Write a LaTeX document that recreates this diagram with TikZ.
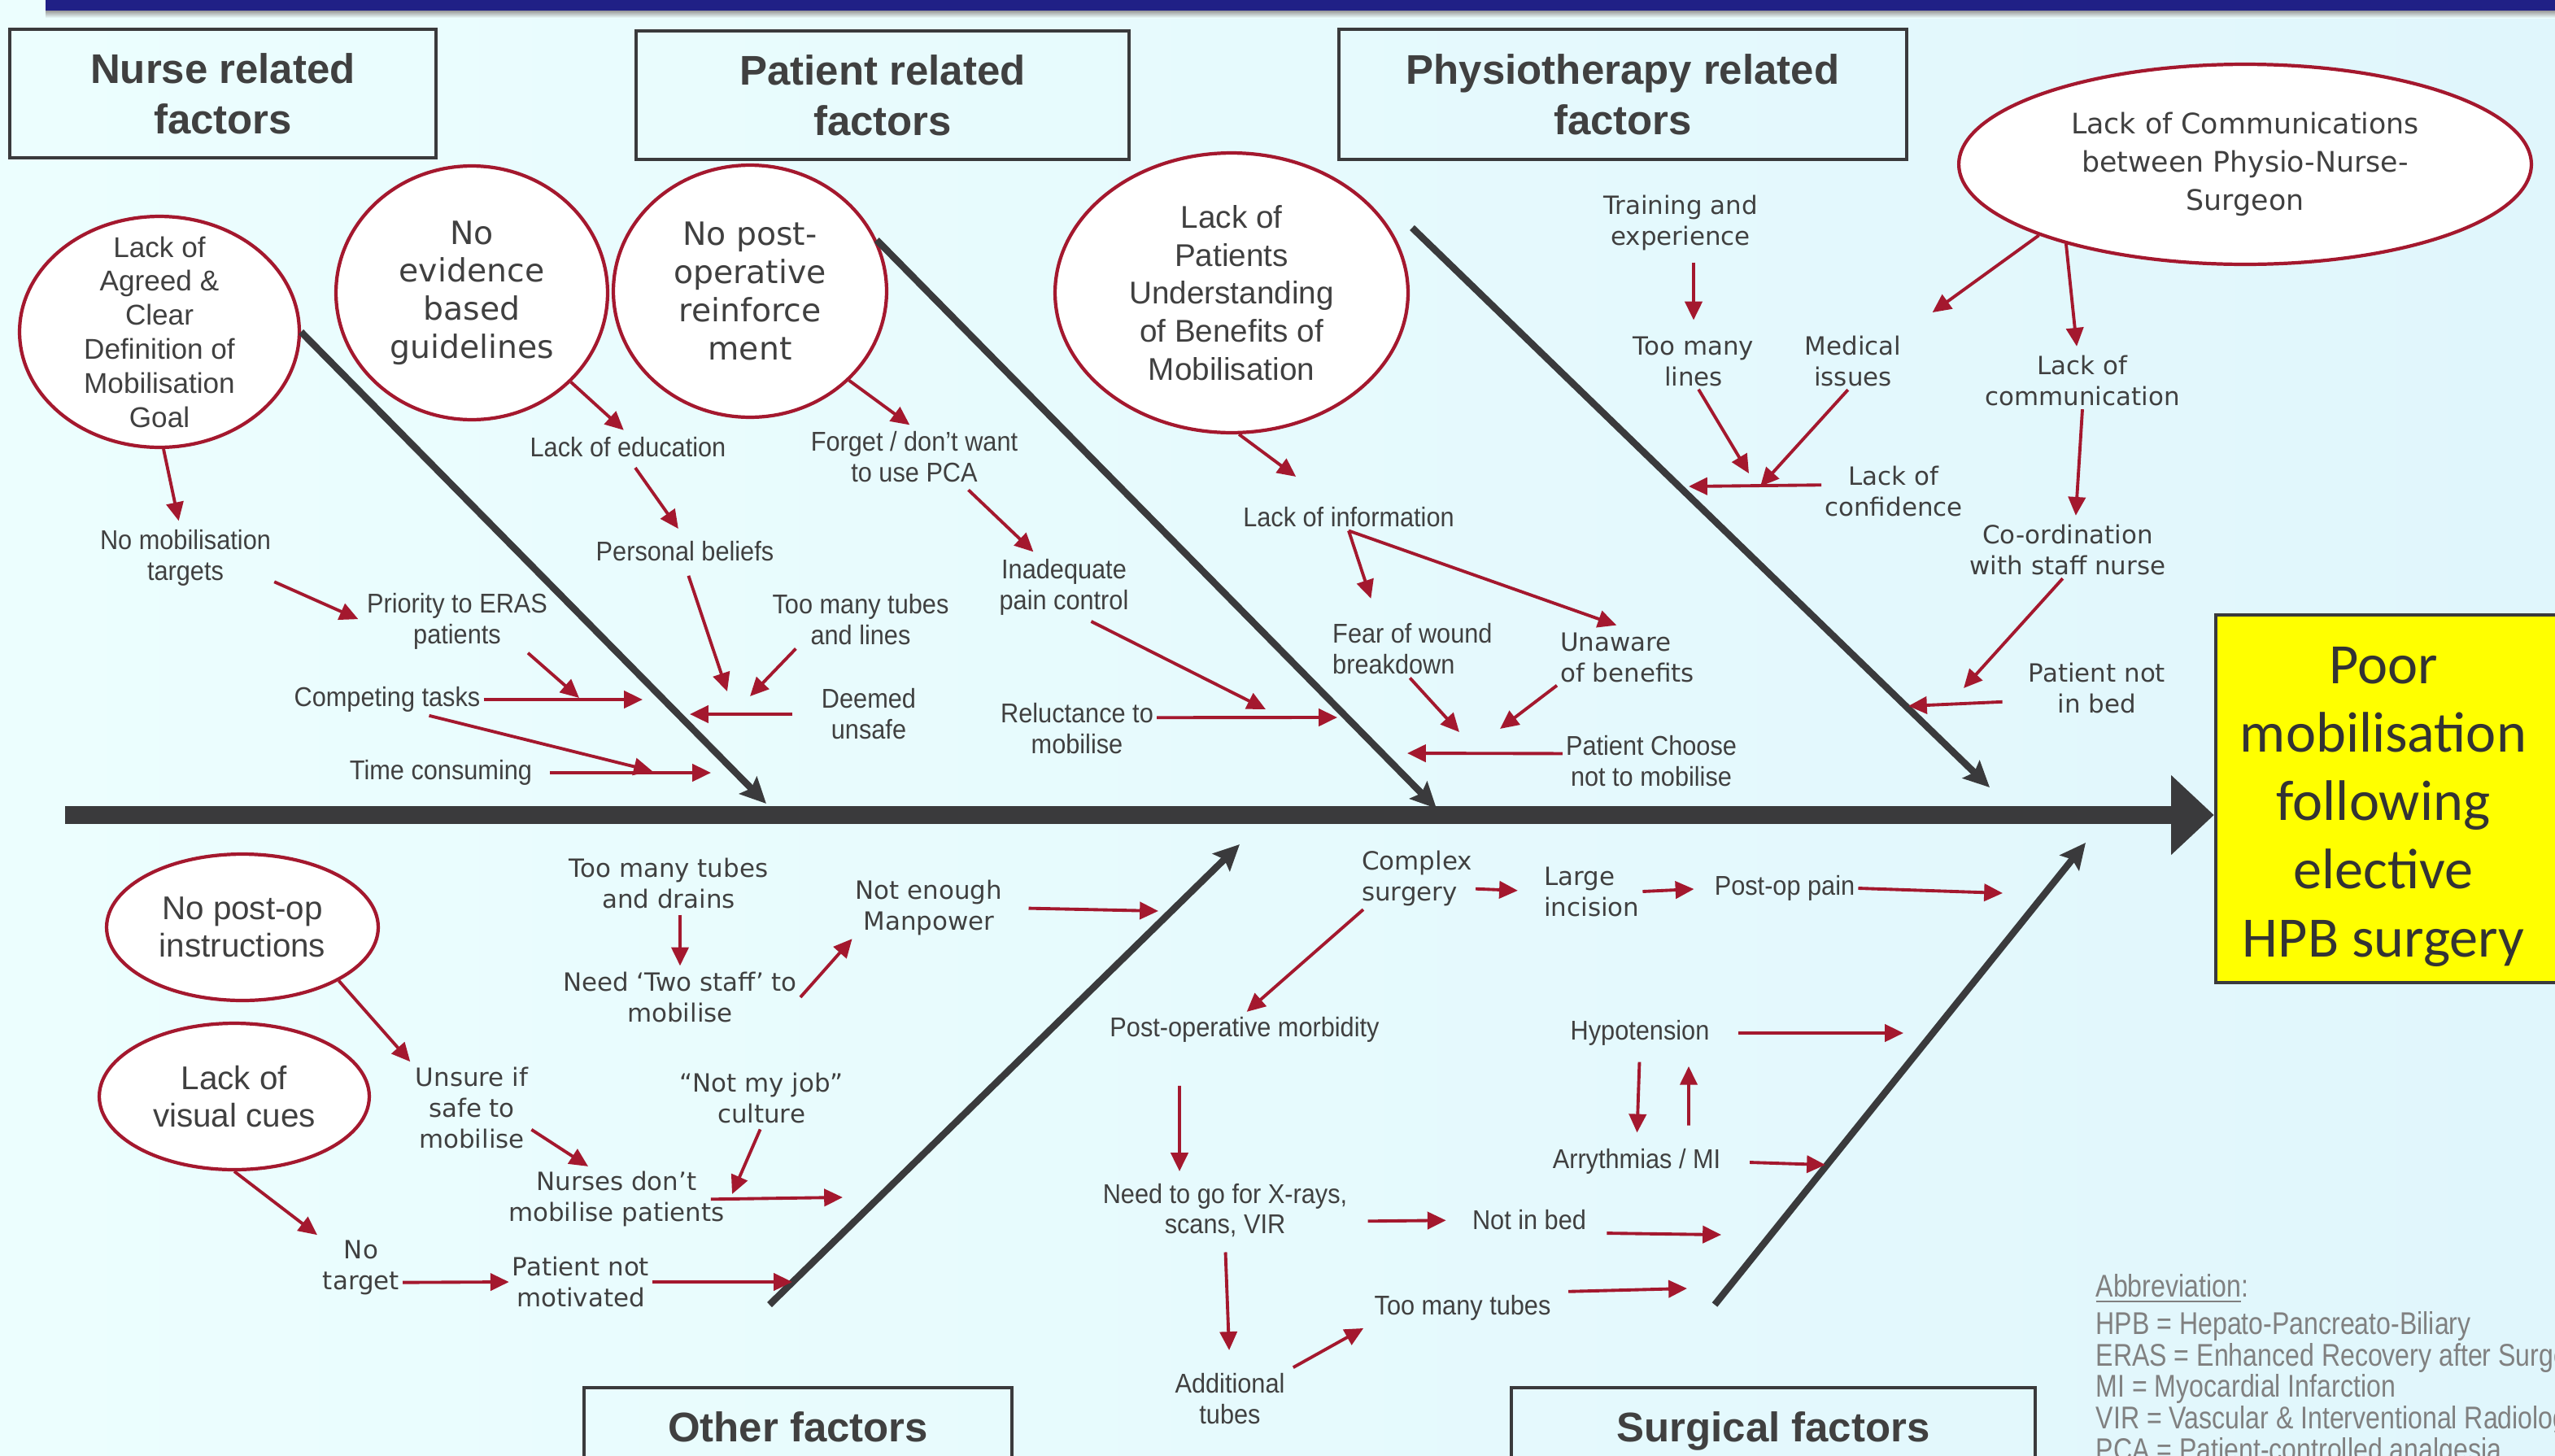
\documentclass[tikz,border=0pt]{standalone}
\usepackage{fontspec}
\setmainfont{Liberation Sans}
\newfontfamily\lblfont[FakeStretch=0.92]{Liberation Sans}
\newfontfamily\dvfont{DejaVu Sans}
\newfontfamily\calfont{Carlito}
\newfontfamily\abbfont[FakeStretch=0.83]{Liberation Sans}
\usetikzlibrary{arrows.meta,shapes.geometric,calc}
\definecolor{bgleft}   {RGB}{236,254,254}
\definecolor{bgright}  {RGB}{224,246,252}
\definecolor{navybar}  {RGB}{32,32,134}
\definecolor{bonegray} {RGB}{58,58,60}
\definecolor{causered} {RGB}{164,24,46}
\definecolor{txtgray}  {RGB}{64,64,64}
\definecolor{abbgray}  {RGB}{128,128,128}
\definecolor{effyellow}{RGB}{255,255,0}
\tikzset{
  hdrbox/.style  ={draw=bonegray, line width=1.2pt, align=center, text=txtgray,
                   font=\bfseries\fontsize{14.5}{17.6}\selectfont, inner sep=0pt},
  effbox/.style  ={draw=bonegray, line width=1.3pt, fill=effyellow},
  efftext/.style ={align=center, text=txtgray!80!black, inner sep=0pt,
                   font=\calfont\fontsize{20}{23.9}\selectfont},
  causeell/.style={ellipse, draw=causered, line width=1.2pt, fill=white, inner sep=0pt},
  elltxt/.style  ={align=center, text=txtgray, inner sep=0pt},
  lbl/.style     ={align=center, text=txtgray, inner sep=1pt,
                   font=\lblfont\fontsize{9.5}{10.8}\selectfont},
  dvlbl/.style   ={lbl, font=\dvfont\fontsize{8.8}{10.8}\selectfont},
  abbnode/.style ={align=left, text=abbgray, inner sep=0pt,
                   font=\abbfont\fontsize{11}{11}\selectfont},
  rarr/.style    ={draw=causered, line width=1.1pt, -{Triangle[length=6.5pt,width=6pt]}},
  bone/.style    ={draw=bonegray, line width=2.4pt, -{Stealth[length=9pt,width=8.5pt,inset=1.5pt]}},
  spine/.style   ={draw=bonegray, line width=6pt, -{Triangle[length=15pt,width=27pt]}},
}
\begin{document}
\begin{tikzpicture}[x=0.02cm,y=-0.02cm]
  \useasboundingbox (0,0) rectangle (1570.5,894.5);
  \clip (0,0) rectangle (1570.5,894.5);
  \shade[left color=bgleft, right color=bgright] (0,0) rectangle (1570.5,894.5);
  \fill[navybar] (28,0) rectangle (1570.5,6.5);
  \shade[top color=black!40, bottom color=bgleft] (28,6.5) rectangle (1570.5,11);

  % category boxes
  \node[hdrbox, minimum width=5.24cm, minimum height=1.58cm] (hnurse) at (137,57.5) {Nurse related\\factors};
  \node[hdrbox, minimum width=6.06cm, minimum height=1.58cm] (hpatient) at (542.5,58.5) {Patient related\\factors};
  \node[hdrbox, minimum width=6.98cm, minimum height=1.60cm] (hphysio) at (997.5,58) {Physiotherapy related\\factors};
  \node[hdrbox, anchor=north, minimum width=5.26cm, text height=18.8pt, text depth=26.7pt] (hother) at (490.5,852) {Other factors};
  \node[hdrbox, anchor=north, minimum width=6.44cm, text height=18.8pt, text depth=26.7pt] (hsurg) at (1090,852) {Surgical factors};

  % effect
  \node[effbox, minimum width=4.2cm, minimum height=4.52cm] (effect) at (1467,491) {};
  \node[efftext] (efft) at ([xshift=-0.04cm,yshift=-0.1cm]effect.center) {Poor\\mobilisation\\following\\elective\\HPB surgery};

  % root causes
  \node[causeell, minimum width=3.44cm, minimum height=2.84cm] (e1) at (98,204) {};
  \node[causeell, minimum width=3.34cm, minimum height=3.12cm] (e2) at (290,180) {};
  \node[causeell, minimum width=3.36cm, minimum height=3.10cm] (e3) at (461,179) {};
  \node[causeell, minimum width=4.34cm, minimum height=3.44cm] (e4) at (757,180) {};
  \node[causeell, minimum width=7.04cm, minimum height=2.46cm] (e5) at (1380,101) {};
  \node[causeell, minimum width=3.34cm, minimum height=1.80cm] (e6) at (149,570) {};
  \node[causeell, minimum width=3.32cm, minimum height=1.80cm] (e7) at (144,674) {};
  \node[elltxt, font=\fontsize{10}{11.9}\selectfont] (e1t) at (e1) {Lack of\\Agreed \&\\Clear\\Definition of\\Mobilisation\\Goal};
  \node[elltxt, font=\dvfont\fontsize{11.2}{13.3}\selectfont] (e2t) at (e2) {No\\evidence\\based\\guidelines};
  \node[elltxt, font=\dvfont\fontsize{11.2}{13.3}\selectfont] (e3t) at (e3) {No post-\\operative\\reinforce\\ment};
  \node[elltxt, font=\fontsize{11}{13.3}\selectfont] (e4t) at (e4) {Lack of\\Patients\\Understanding\\of Benefits of\\Mobilisation};
  \node[elltxt, font=\dvfont\fontsize{9.9}{13.3}\selectfont] (e5t) at (e5) {Lack of Communications\\between Physio-Nurse-\\Surgeon};
  \node[elltxt, font=\fontsize{11.5}{13}\selectfont] (e6t) at (e6) {No post-op\\instructions};
  \node[elltxt, font=\fontsize{11.5}{13}\selectfont] (e7t) at (e7) {Lack of\\visual cues};

  % spine and bones
  \coordinate (tail) at (40,501);
  \coordinate (nurseTip) at (471,494);
  \coordinate (patTip) at (883,497);
  \coordinate (phyStart) at (868,140);
  \coordinate (phyTip) at (1223,484);
  \coordinate (othStart) at (473,802);
  \coordinate (othTip) at (762,519);
  \coordinate (surStart) at (1054,802);
  \coordinate (surTip) at (1282,518);
  \draw[spine] (tail) -- (tail -| effect.west);
  \draw[bone] (e1.east) -- (nurseTip);
  \draw[bone] (e3.22) -- (patTip);
  \draw[bone] (phyStart) -- (phyTip);
  \draw[bone] (othStart) -- (othTip);
  \draw[bone] (surStart) -- (surTip);

  % labels
  \node[lbl] (nomobt) at (114,343) {No mobilisation\\targets};
  \node[lbl] (prioeras) at (281,382) {Priority to ERAS\\patients};
  \node[lbl] (comptask) at (238,430) {Competing tasks};
  \node[lbl] (timecons) at (271,475) {Time consuming};
  \node[lbl] (lackedu) at (386,275) {Lack of education};
  \node[lbl] (persbel) at (421,339) {Personal beliefs};
  \node[lbl] (tubeslines) at (529,381) {Too many tubes\\and lines};
  \node[lbl] (deemed) at (534,439) {Deemed\\unsafe};
  \node[lbl] (forgetpca) at (562,281) {Forget / don’t want\\to use PCA};
  \node[lbl] (inadeq) at (654,361) {Inadequate\\pain control};
  \node[lbl] (reluct) at (662,448) {Reluctance to\\mobilise};
  \node[lbl] (lackinfo) at (829,318) {Lack of information};
  \node[lbl, align=left, anchor=west] (fearwound) at (817,399) {Fear of wound\\breakdown};
  \node[dvlbl, align=left, anchor=west] (unaware) at (957,404) {Unaware\\of benefits};
  \node[lbl] (patchoose) at (1015,468) {Patient Choose\\not to mobilise};
  \node[dvlbl] (training) at (1033,137) {Training and\\experience};
  \node[dvlbl] (toomanylines) at (1041,222) {Too many\\lines};
  \node[dvlbl] (medical) at (1139,222) {Medical\\issues};
  \node[dvlbl] (lackconf) at (1164,302) {Lack of\\confidence};
  \node[dvlbl] (lackcomm) at (1280,234) {Lack of\\communication};
  \node[dvlbl] (coord) at (1271,338) {Co-ordination\\with staff nurse};
  \node[dvlbl] (patnotbed) at (1289,423) {Patient not\\in bed};
  \node[dvlbl] (tubesdrains) at (411,543) {Too many tubes\\and drains};
  \node[dvlbl] (twostaff) at (418,613) {Need ‘Two staff’ to\\mobilise};
  \node[dvlbl] (manpower) at (571,558) {Not enough\\Manpower};
  \node[dvlbl] (unsure) at (290,681) {Unsure if\\safe to\\mobilise};
  \node[dvlbl] (notmyjob) at (468,675) {“Not my job”\\culture};
  \node[dvlbl] (nursesdont) at (379,737) {Nurses don’t\\mobilise patients};
  \node[dvlbl] (notarget) at (222,779) {No\\target};
  \node[dvlbl] (patnotmot) at (357,788) {Patient not\\motivated};
  \node[dvlbl, align=left, anchor=west] (complex) at (835,540) {Complex\\surgery};
  \node[dvlbl, align=left, anchor=west] (largeinc) at (947,548) {Large\\incision};
  \node[lbl] (postoppain) at (1097,546) {Post-op pain};
  \node[lbl] (postmorb) at (765,633) {Post-operative morbidity};
  \node[lbl] (xrays) at (753,744) {Need to go for X-rays,\\scans, VIR};
  \node[lbl] (notinbed) at (940,750) {Not in bed};
  \node[lbl] (addtubes) at (756,860) {Additional\\tubes};
  \node[lbl] (manytubes) at (899,804) {Too many tubes};
  \node[lbl] (hypot) at (1008,635) {Hypotension};
  \node[lbl] (arrhy) at (1006,714) {Arrythmias / MI};
  \node[abbnode, anchor=north west] (abbrev) at (1288,783) {\underline{Abbreviation}:\\[2pt]HPB = Hepato-Pancreato-Biliary\\ERAS = Enhanced Recovery after Surgery\\MI = Myocardial Infarction\\VIR = Vascular \& Interventional Radiology\\PCA = Patient-controlled analgesia};

  % free ends of cause arrows
  \coordinate (ctJoin) at (356,429);
  \coordinate (ctEnd) at (395,430);
  \coordinate (tcJoin) at (401,474);
  \coordinate (tcEnd) at (437,475);
  \coordinate (pbEnd) at (447,425);
  \coordinate (tlEnd) at (461,428);
  \coordinate (duEnd) at (424,439);
  \coordinate (icEnd) at (778,436);
  \coordinate (rmEnd) at (822,441);
  \coordinate (fwEnd) at (897,450);
  \coordinate (ubEnd) at (922,448);
  \coordinate (pcEnd) at (865,463);
  \coordinate (tmEnd) at (1075,291);
  \coordinate (miEnd) at (1082,299);
  \coordinate (lcEnd) at (1038,299);
  \coordinate (coEnd) at (1207,423);
  \coordinate (pnEnd) at (1173,434);
  \coordinate (njEnd) at (450,734);
  \coordinate (ndEnd) at (518,736);
  \coordinate (pmEnd) at (487,788);
  \coordinate (mpEnd) at (712,560);
  \coordinate (ppEnd) at (1231,549);
  \coordinate (ibEnd) at (1058,759);
  \coordinate (ttEnd) at (1037,792);
  \coordinate (hyEnd) at (1170,635);
  \coordinate (amEnd) at (1122,716);

  % nurse related
  \draw[rarr, shorten >=2pt] (e1.-88) -- (nomobt.100);
  \draw[rarr, shorten >=2pt] (nomobt.-15) -- (prioeras.west);
  \draw[rarr] (prioeras.-24) -- (ctJoin);
  \draw[rarr] (comptask.east) -- (ctEnd);
  \draw[rarr] (comptask.-21) -- (tcJoin);
  \draw[rarr, shorten <=5pt] (timecons.east) -- (tcEnd);
  \draw[rarr, shorten >=2pt] (e2.-42) -- (lackedu.north);
  \draw[rarr, shorten <=3pt, shorten >=4pt] (lackedu.-80) -- (persbel.north);
  \draw[rarr, shorten <=4pt] (persbel.south) -- (pbEnd);
  \draw[rarr] (tubeslines.-156) -- (tlEnd);
  \draw[rarr, shorten <=9pt] (deemed.west) -- (duEnd);
  % patient related
  \draw[rarr, shorten >=2pt] (e3.-42) -- (forgetpca.north);
  \draw[rarr, shorten <=2pt, shorten >=2pt] (forgetpca.-30) -- (inadeq.130);
  \draw[rarr, shorten <=2pt] (inadeq.-55) -- (icEnd);
  \draw[rarr] (reluct.8) -- (rmEnd);
  \draw[rarr, shorten >=16pt] (e4.-87) -- (lackinfo.140);
  \draw[rarr, shorten >=8pt] (lackinfo.south) -- (fearwound.140);
  \draw[rarr, shorten >=4pt] (lackinfo.south) -- (unaware.north);
  \draw[rarr] (fearwound.-95) -- (fwEnd);
  \draw[rarr] (unaware.south west) -- (ubEnd);
  \draw[rarr] (patchoose.175) -- (pcEnd);
  % physiotherapy related
  \draw[rarr, shorten <=3pt, shorten >=4.5pt] (toomanylines.north |- training.south) -- (toomanylines.north);
  \draw[rarr] (toomanylines.-80) -- (tmEnd);
  \draw[rarr] (medical.-100) -- (miEnd);
  \draw[rarr] (lackconf.175) -- (lcEnd);
  \draw[rarr, shorten >=12pt] (e5.199) -- (medical.north east);
  \draw[rarr, shorten >=2pt] (e5.204) -- (lackcomm.100);
  \draw[rarr, shorten >=2pt] (lackcomm.south) -- (coord.75);
  \draw[rarr] (coord.-100) -- (coEnd);
  \draw[rarr, shorten <=8pt] (patnotbed.190) -- (pnEnd);
  % other factors
  \draw[rarr, shorten >=1pt] (e6.-29) -- (unsure.north west);
  \draw[rarr, shorten >=1pt] (unsure.-20) -- (nursesdont.130);
  \draw[rarr, shorten <=1pt] (notmyjob.south) -- (njEnd);
  \draw[rarr, shorten <=-6pt] (nursesdont.east) -- (ndEnd);
  \draw[rarr, shorten >=1pt] (e7.south) -- (notarget.north west);
  \draw[rarr] (notarget.-20) -- (patnotmot.west);
  \draw[rarr] (patnotmot.east) -- (pmEnd);
  \draw[rarr, shorten <=1pt, shorten >=1pt] (tubesdrains.south -| twostaff.north) -- (twostaff.north);
  \draw[rarr] (twostaff.east) -- (manpower.south west);
  \draw[rarr, shorten <=8pt] (manpower.east) -- (mpEnd);
  % surgical factors
  \draw[rarr, shorten >=8pt] (complex.-10) -- (largeinc.west);
  \draw[rarr, shorten >=6pt] (largeinc.east) -- (postoppain.west);
  \draw[rarr] (postoppain.east) -- (ppEnd);
  \draw[rarr, shorten >=1pt] (complex.-150) -- (postmorb.north);
  \draw[rarr, shorten <=14pt, shorten >=3pt] ([xshift=-0.8cm]postmorb.south) -- ([xshift=-0.56cm]xrays.north);
  \draw[rarr, shorten <=6pt, shorten >=8pt] (xrays.-5) -- (notinbed.west);
  \draw[rarr, shorten <=6pt] (notinbed.-12) -- (ibEnd);
  \draw[rarr, shorten <=4pt, shorten >=7pt] (xrays.south) -- (addtubes.north);
  \draw[rarr, shorten <=2pt, shorten >=3pt] (addtubes.north east) -- (manytubes.south west);
  \draw[rarr, shorten <=5pt] (manytubes.north east) -- (ttEnd);
  \draw[rarr, shorten <=9pt] (hypot.east) -- (hyEnd);
  \draw[rarr, shorten <=4.5pt, shorten >=4.5pt] (hypot.south) -- (arrhy.north);
  \draw[rarr, shorten <=7pt, shorten >=6pt] ([xshift=0.64cm]arrhy.north) -- ([xshift=0.6cm]hypot.south);
  \draw[rarr, shorten <=9pt] (arrhy.east) -- (amEnd);
\end{tikzpicture}
\end{document}
